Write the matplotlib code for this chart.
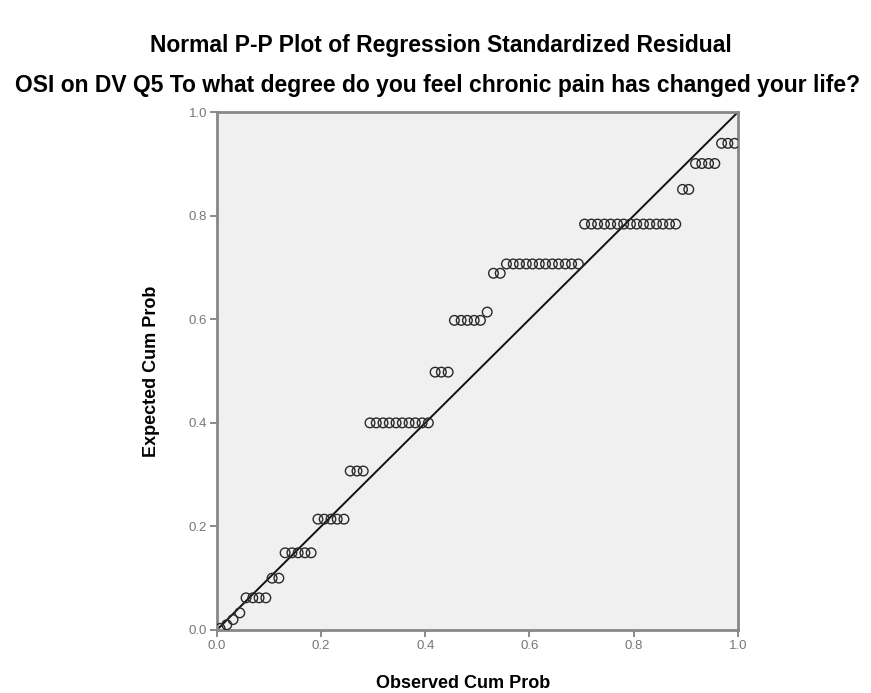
import matplotlib
matplotlib.use('Agg')
import matplotlib.pyplot as plt

# observed cum prob (per case) and expected cum prob, grouped by tied residuals
obs_groups = [
    [0.006, 0.019, 0.031, 0.044],
    [0.056, 0.069, 0.081, 0.094],
    [0.106, 0.119],
    [0.131, 0.144, 0.156, 0.169, 0.181],
    [0.194, 0.206, 0.219, 0.231, 0.244],
    [0.256, 0.269, 0.281],
    [0.294, 0.306, 0.319, 0.331, 0.344, 0.356, 0.369, 0.381, 0.394, 0.406],
    [0.419, 0.431, 0.444],
    [0.456, 0.469, 0.481, 0.494, 0.506],
    [0.519],
    [0.531, 0.544],
    [0.556, 0.569, 0.581, 0.594, 0.606, 0.619, 0.631, 0.644, 0.656, 0.669, 0.681, 0.694],
    [0.706, 0.719, 0.731, 0.744, 0.756, 0.769, 0.781, 0.794, 0.806, 0.819, 0.831, 0.844,
     0.856, 0.869, 0.881],
    [0.894, 0.906],
    [0.919, 0.931, 0.944, 0.956],
    [0.969, 0.981, 0.994],
]
exp_groups = [
    [0.003, 0.010, 0.020, 0.033],
    [0.062] * 4,
    [0.100] * 2,
    [0.149] * 5,
    [0.214] * 5,
    [0.307] * 3,
    [0.400] * 10,
    [0.498] * 3,
    [0.598] * 5,
    [0.614],
    [0.689] * 2,
    [0.707] * 12,
    [0.784] * 15,
    [0.851] * 2,
    [0.901] * 4,
    [0.940] * 3,
]
observed = [v for g in obs_groups for v in g]
expected = [v for g in exp_groups for v in g]

ticks = [0.0, 0.2, 0.4, 0.6, 0.8, 1.0]
tick_labels = ['0.0', '0.2', '0.4', '0.6', '0.8', '1.0']

plt.rcParams['font.family'] = ['Liberation Sans', 'DejaVu Sans']

fig = plt.figure(figsize=(8.71, 6.93), dpi=100)
ax = fig.add_axes([0.249, 0.091, 0.598, 0.747])
ax.set_facecolor('#f0f0f0')

ax.plot([0, 1], [0, 1], color='#111111', lw=1.4, zorder=2)
ax.scatter(observed, expected, s=48, facecolors='none', edgecolors='#2a2a2a',
           linewidths=1.0, zorder=3, clip_on=True)

ax.set_xlim(0, 1)
ax.set_ylim(0, 1)
ax.set_xticks(ticks)
ax.set_xticklabels(tick_labels)
ax.set_yticks(ticks)
ax.set_yticklabels(tick_labels)
ax.tick_params(direction='out', length=5, width=1.2, color='#777777',
               labelcolor='#777777', labelsize=9.5, pad=2)
for sp in ax.spines.values():
    sp.set_color('#888888')
    sp.set_linewidth(2.0)

ax.set_xlabel('Observed Cum Prob', fontsize=13, fontweight='bold')
ax.set_ylabel('Expected Cum Prob', fontsize=13, fontweight='bold')
ax.xaxis.set_label_coords(0.473, -0.087)
ax.yaxis.set_label_coords(-0.109, 0.5)

fig.text(0.506, 0.935, 'Normal P-P Plot of Regression Standardized Residual',
         ha='center', va='center', fontsize=16.5, fontweight='bold')
fig.text(0.502, 0.877, 'OSI on DV Q5 To what degree do you feel chronic pain has changed your life?',
         ha='center', va='center', fontsize=16.5, fontweight='bold')

fig.savefig('out.png', dpi=100)
